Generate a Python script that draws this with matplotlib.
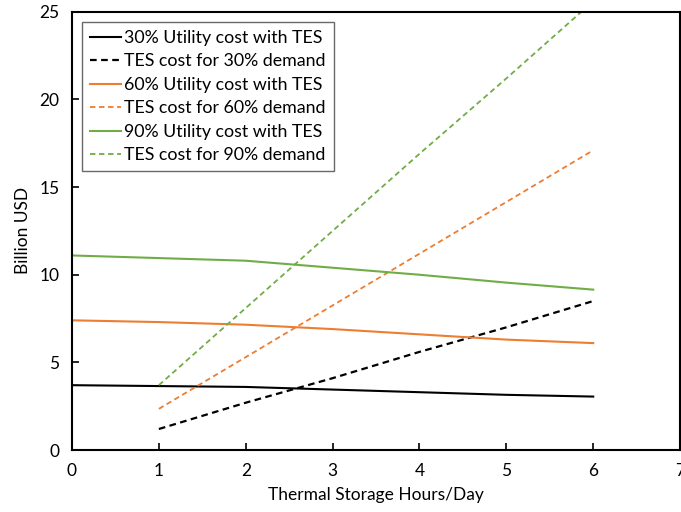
import matplotlib.pyplot as plt

plt.rcParams['font.family'] = ['Lato', 'DejaVu Sans']

hours_util = [0, 1, 2, 3, 4, 5, 6]
hours_tes = [1, 2, 3, 4, 5, 6]

util_30 = [3.7, 3.65, 3.6, 3.45, 3.3, 3.15, 3.05]
util_60 = [7.4, 7.3, 7.15, 6.9, 6.6, 6.3, 6.1]
util_90 = [11.1, 10.95, 10.8, 10.4, 10.0, 9.55, 9.15]

tes_30 = [1.2, 2.7, 4.1, 5.6, 7.0, 8.5]
tes_60 = [2.35, 5.3, 8.25, 11.2, 14.15, 17.1]
tes_90 = [3.7, 8.1, 12.5, 16.9, 21.2, 25.6]

BLACK = '#000000'
ORANGE = '#ED7D31'
GREEN = '#70AD47'

fig = plt.figure(figsize=(6.81, 5.12), dpi=100)
ax = fig.add_axes([0.1057, 0.121, 0.893, 0.856])

ax.plot(hours_util, util_30, color=BLACK, lw=1.5, label='30% Utility cost with TES')
ax.plot(hours_tes, tes_30, color=BLACK, lw=1.6, ls=(0, (3, 2)), label='TES cost for 30% demand')
ax.plot(hours_util, util_60, color=ORANGE, lw=1.5, label='60% Utility cost with TES')
ax.plot(hours_tes, tes_60, color=ORANGE, lw=1.3, ls=(0, (3, 2)), label='TES cost for 60% demand')
ax.plot(hours_util, util_90, color=GREEN, lw=1.5, label='90% Utility cost with TES')
ax.plot(hours_tes, tes_90, color=GREEN, lw=1.3, ls=(0, (3, 2)), label='TES cost for 90% demand')

ax.set_xlim(0, 7)
ax.set_ylim(0, 25)
ax.set_xticks(range(0, 8))
ax.set_yticks(range(0, 26, 5))
ax.tick_params(direction='in', length=5, width=1.2, labelsize=12.5, pad=9)
for s in ax.spines.values():
    s.set_linewidth(1.5)
    s.set_color('#000000')

ax.set_xlabel('Thermal Storage Hours/Day', fontsize=12.5, labelpad=6)
ax.set_ylabel('Billion USD', fontsize=12.5, labelpad=6)

leg = ax.legend(loc='upper left', bbox_to_anchor=(0.017, 0.977), fontsize=12.8,
                frameon=True, fancybox=False, handlelength=1.75, handletextpad=0.15,
                labelspacing=0.42, borderpad=0.45, borderaxespad=0)
leg.get_frame().set_edgecolor('#444444')
leg.get_frame().set_linewidth(1.0)

fig.savefig('out.png', dpi=100)
